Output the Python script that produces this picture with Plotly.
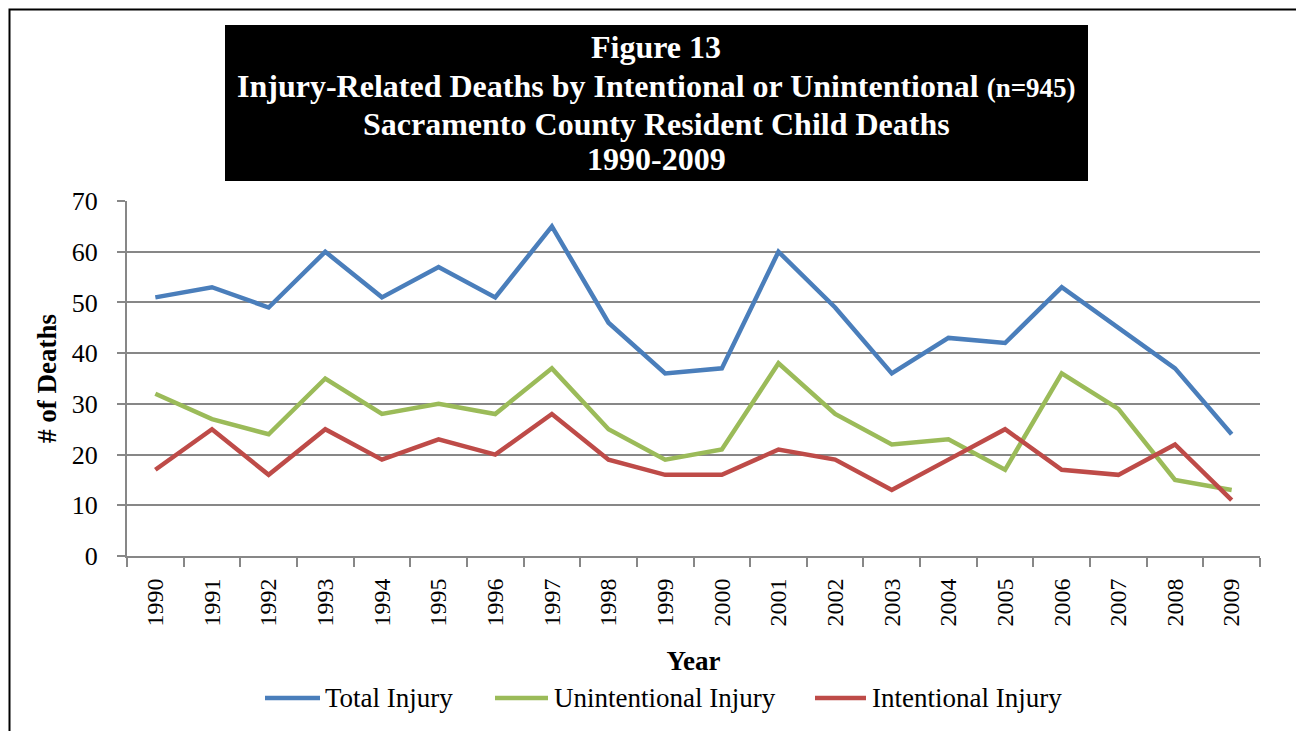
import plotly.graph_objects as go

years = [str(y) for y in range(1990, 2010)]
total_injury = [51, 53, 49, 60, 51, 57, 51, 65, 46, 36, 37, 60, 49, 36, 43, 42, 53, 45, 37, 24]
unintentional_injury = [32, 27, 24, 35, 28, 30, 28, 37, 25, 19, 21, 38, 28, 22, 23, 17, 36, 29, 15, 13]
intentional_injury = [17, 25, 16, 25, 19, 23, 20, 28, 19, 16, 16, 21, 19, 13, 19, 25, 17, 16, 22, 11]
series_names = ["Total Injury", "Unintentional Injury", "Intentional Injury"]
series_colors = ["#4a7ebb", "#9bbb59", "#be4b48"]

# page body has an 8px margin, so figure is 8px smaller and coordinates below are page pixels
OFF = 8
W, H = 1304 - OFF, 731 - OFF
L, R, T, B = 127, 1260, 201, 556  # plot area in page pixels
FONT = "Liberation Serif, Times New Roman, serif"


def px(x):
    return (x - L) / (R - L)


def py(y):
    return (B - y) / (B - T)


fig = go.Figure()
for name, vals, col in zip(series_names, [total_injury, unintentional_injury, intentional_injury], series_colors):
    fig.add_trace(go.Scatter(x=years, y=vals, mode="lines", name=name,
                             line=dict(color=col, width=4.5)))

fig.update_layout(
    width=W, height=H,
    margin=dict(l=L - OFF, r=W - (R - OFF), t=T - OFF, b=H - (B - OFF), pad=0),
    paper_bgcolor="white", plot_bgcolor="white",
    font=dict(family=FONT, color="black", size=24),
    showlegend=False,
    xaxis=dict(
        type="category", tickangle=-90, ticks="outside", tickson="boundaries",
        ticklen=9, tickwidth=2, tickcolor="#878787",
        showline=True, linecolor="#878787", linewidth=2,
        showgrid=False, zeroline=False,
        tickfont=dict(family=FONT, size=24, color="black"),
        ticklabelstandoff=11,
        title=dict(text="<b>Year</b>", font=dict(family=FONT, size=27, color="black"), standoff=26),
        range=[-0.5, 19.5],
    ),
    yaxis=dict(
        range=[0, 70], dtick=10, tick0=0,
        ticks="outside", ticklen=8, tickwidth=2, tickcolor="#878787",
        showline=True, linecolor="#878787", linewidth=2,
        showgrid=True, gridcolor="#878787", gridwidth=2,
        zeroline=False,
        tickfont=dict(family=FONT, size=26, color="black"),
        ticklabelstandoff=14,
        title=dict(text="<b># of Deaths</b>", font=dict(family=FONT, size=27, color="black"), standoff=7),
    ),
)

# outer border
fig.add_shape(type="rect", xref="paper", yref="paper",
              x0=px(9.5), x1=px(1302), y0=py(760), y1=py(9.5),
              line=dict(color="black", width=2), fillcolor="rgba(0,0,0,0)", layer="above")

# title box
fig.add_shape(type="rect", xref="paper", yref="paper",
              x0=px(225), x1=px(1088), y0=py(181), y1=py(25),
              line=dict(color="black", width=0), fillcolor="black", layer="above")

title_lines = [
    ("<b>Figure 13</b>", 47),
    ("<b>Injury-Related Deaths by Intentional or Unintentional "
     "<span style='font-size:27px'>(n=945)</span></b>", 86),
    ("<b>Sacramento County Resident Child Deaths</b>", 124),
    ("<b>1990-2009</b>", 159),
]
for txt, yy in title_lines:
    fig.add_annotation(
        xref="paper", yref="paper", x=px(656), y=py(yy), xanchor="center", yanchor="middle",
        showarrow=False, align="center", text=txt,
        font=dict(family=FONT, size=32, color="white"),
    )

# legend (drawn manually to match the long line samples)
legend_pos = [(265, 320, 323), (495, 548, 552), (815, 866, 870)]
for (x0, x1, xt), name, col in zip(legend_pos, series_names, series_colors):
    fig.add_shape(type="line", xref="paper", yref="paper",
                  x0=px(x0), x1=px(x1), y0=py(698), y1=py(698),
                  line=dict(color=col, width=4.5))
    fig.add_annotation(xref="paper", yref="paper", x=px(xt), y=py(698),
                       xanchor="left", yanchor="middle", showarrow=False, text=name,
                       font=dict(family=FONT, size=27, color="black"))

fig.write_html("out.html")
